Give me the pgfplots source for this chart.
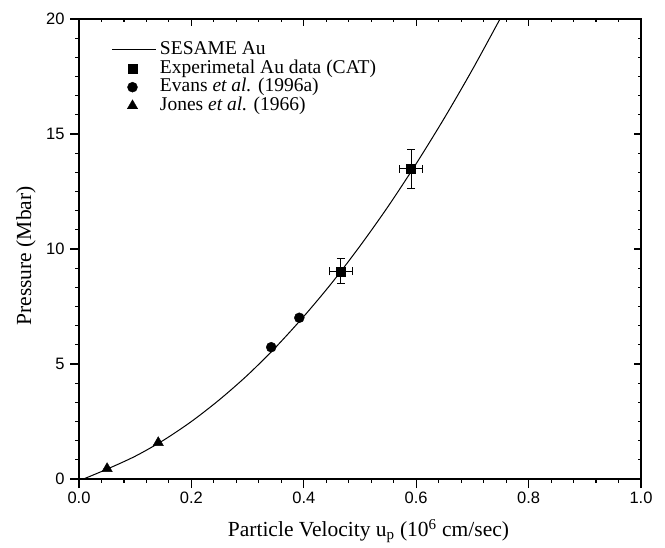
\documentclass[border=0pt]{standalone}
\usepackage{fontspec}
\setmainfont{Liberation Serif}
\newfontfamily\sansnum{Liberation Sans}
\usepackage{pgfplots}
\pgfplotsset{compat=1.18}
\pgfplotsset{
 lineleg/.style={legend image code/.code={\draw[##1] (0bp,0bp) -- (44bp,0bp);}},
 markleg/.style={legend image code/.code={\draw[mark repeat=2,mark phase=2,##1] plot coordinates {(0bp,0bp) (20bp,0bp) (44bp,0bp)};}},
}
\begin{document}
\begin{tikzpicture}
\path[use as bounding box] (-79bp,-69bp) rectangle (586bp,479bp);
% overlay axis for inward top/right ticks
\begin{axis}[
 at={(0,0)}, anchor=south west,
 scale only axis, width=562bp, height=460bp,
 xmin=0, xmax=1, ymin=0, ymax=20,
 xtick={0,0.2,0.4,0.6,0.8,1.0}, ytick={0,5,10,15,20},
 minor x tick num=4, minor y tick num=5,
 tick align=inside, xtick pos=top, ytick pos=right,
 major tick length=7bp, minor tick length=3.5bp,
 every tick/.style={black, line width=1.1bp},
 xticklabels={}, yticklabels={},
 axis line style={draw=none},
]
\addplot[draw=none] coordinates {(0.5,10)};
\end{axis}
\begin{axis}[
 at={(0,0)}, anchor=south west,
 scale only axis, width=562bp, height=460bp,
 xmin=0, xmax=1, ymin=0, ymax=20,
 xtick={0,0.2,0.4,0.6,0.8,1.0}, ytick={0,5,10,15,20},
 minor x tick num=4, minor y tick num=5,
 tick align=outside, xtick pos=bottom, ytick pos=left,
 major tick length=9bp, minor tick length=3.5bp,
 every tick/.style={black, line width=1.1bp},
 axis line style={line width=1.5bp},
 /pgf/number format/assume math mode=true,
 ticklabel style={font=\sansnum\fontsize{16.5bp}{16.5bp}\selectfont},
 yticklabel style={xshift=-2bp},
 xticklabel style={/pgf/number format/fixed, /pgf/number format/fixed zerofill, /pgf/number format/precision=1},
 every axis x label/.style={at={(axis description cs:0.515,0)}, yshift=-52bp, anchor=center},
 every axis y label/.style={at={(axis description cs:0,0.485)}, xshift=-53bp, rotate=90, anchor=center},
 label style={font=\fontsize{21.5bp}{23bp}\selectfont},
 xlabel={Particle Velocity u\textsubscript{p} (10\textsuperscript{6} cm/sec)},
 ylabel={Pressure (Mbar)},
 legend cell align=left,
 legend style={draw=none, fill=none, at={(axis description cs:0,1)}, anchor=north west,
   xshift=33bp, yshift=-22.5bp, inner sep=0pt, outer sep=0pt, row sep=1.6bp,
   font=\fontsize{19.5bp}{21bp}\selectfont,
   nodes={inner sep=0pt, text height=13bp, text depth=4bp},
   /tikz/every odd column/.append style={column sep=3bp}},
]
\addplot[black, line width=1bp, smooth, lineleg]
 coordinates {(0.008,0) (0.05,0.43) (0.10,0.99) (0.15,1.68) (0.20,2.50) (0.25,3.45) (0.30,4.52) (0.35,5.73) (0.40,7.07) (0.45,8.53) (0.50,10.13) (0.55,11.85) (0.60,13.71) (0.65,15.69) (0.70,17.80) (0.75,20.04)};
\addlegendentry{SESAME Au}
\addplot[black, only marks, mark=square*, mark size=4.5bp, markleg,
  error bars/.cd, x dir=both, x explicit, y dir=both, y explicit,
  error bar style={line width=1bp, black},
  error mark options={black, line width=1bp, mark size=4bp, rotate=90},
  ]
  coordinates {(0.466,9.03) +- (0.02,0.55) (0.591,13.48) +- (0.02,0.83)};
\addlegendentry{Experimetal Au data (CAT)}
\addplot[black, only marks, mark=*, mark size=5bp, markleg]
  coordinates {(0.342,5.73) (0.392,7.01)};
\addlegendentry{Evans \textit{et al.} (1996a)}
\addplot[black, only marks, mark=triangle*, mark size=6bp, markleg]
  coordinates {(0.050,0.45) (0.141,1.58)};
\addlegendentry{Jones \textit{et al.} (1966)}
\end{axis}
\end{tikzpicture}
\end{document}
